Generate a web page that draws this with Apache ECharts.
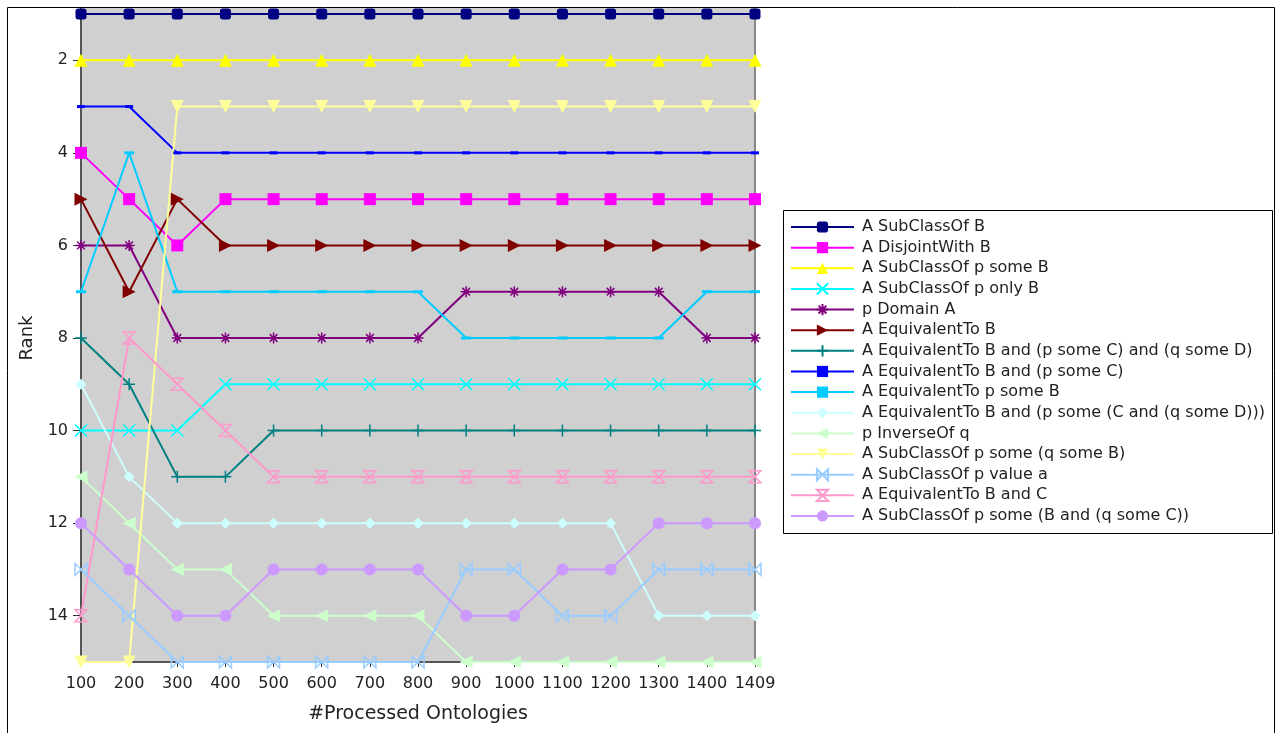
<!DOCTYPE html>
<html><head><meta charset="utf-8">
<script src="https://cdn.jsdelivr.net/npm/echarts@6/dist/echarts.min.js"></script>
<style>html,body{margin:0;padding:0;background:#fff}#c{width:1282px;height:733px}</style>
</head><body><div id="c"></div>
<script>
const categories = ['100','200','300','400','500','600','700','800','900','1000','1100','1200','1300','1400','1409'];
const yTicks = [2,4,6,8,10,12,14];
const names = [
 'A SubClassOf B','A DisjointWith B','A SubClassOf p some B','A SubClassOf p only B','p Domain A',
 'A EquivalentTo B','A EquivalentTo B and (p some C) and (q some D)','A EquivalentTo B and (p some C)',
 'A EquivalentTo p some B','A EquivalentTo B and (p some (C and (q some D)))','p InverseOf q',
 'A SubClassOf p some (q some B)','A SubClassOf p value a','A EquivalentTo B and C','A SubClassOf p some (B and (q some C))'
];
const subClassOfB      = [1,1,1,1,1,1,1,1,1,1,1,1,1,1,1];
const disjointWithB    = [4,5,6,5,5,5,5,5,5,5,5,5,5,5,5];
const someB            = [2,2,2,2,2,2,2,2,2,2,2,2,2,2,2];
const onlyB            = [10,10,10,9,9,9,9,9,9,9,9,9,9,9,9];
const domainA          = [6,6,8,8,8,8,8,8,7,7,7,7,7,8,8];
const equivB           = [5,7,5,6,6,6,6,6,6,6,6,6,6,6,6];
const equivBandCD      = [8,9,11,11,10,10,10,10,10,10,10,10,10,10,10];
const equivBandC_some  = [3,3,4,4,4,4,4,4,4,4,4,4,4,4,4];
const equivSomeB       = [7,4,7,7,7,7,7,7,8,8,8,8,8,7,7];
const equivNested      = [9,11,12,12,12,12,12,12,12,12,12,12,14,14,14];
const inverseOf        = [11,12,13,13,14,14,14,14,15,15,15,15,15,15,15];
const someQsomeB       = [15,15,3,3,3,3,3,3,3,3,3,3,3,3,3];
const valueA           = [13,14,15,15,15,15,15,15,13,13,14,14,13,13,13];
const equivBandC       = [14,8,9,10,11,11,11,11,11,11,11,11,11,11,11];
const someBandQ        = [12,13,14,14,13,13,13,13,14,14,13,13,12,12,12];

const dataList = [subClassOfB,disjointWithB,someB,onlyB,domainA,equivB,equivBandCD,equivBandC_some,equivSomeB,equivNested,inverseOf,someQsomeB,valueA,equivBandC,someBandQ];
const colors = ['#000080','#ff00ff','#ffff00','#00ffff','#800080','#800000','#008080','#0000ff','#00ccff','#ccffff','#ccffcc','#ffff99','#99ccff','#ff99cc','#cc99ff'];
const symbols = [
 {s:'roundRect', z:11, fill:true},
 {s:'rect', z:12, fill:true},
 {s:'triangle', z:13, fill:true},
 {s:'path://M0,0L10,10M10,0L0,10', z:12, fill:false},
 {s:'path://M5,0V10M0,5H10M1.5,1.5L8.5,8.5M8.5,1.5L1.5,8.5', z:11, fill:false},
 {s:'path://M0,0L10,5L0,10Z', z:13, fill:true},
 {s:'path://M5,0V10M0,5H10', z:12, fill:false},
 {s:'rect', z:[8,3], fill:true},
 {s:'rect', z:[10,3], fill:true},
 {s:'diamond', z:11, fill:true},
 {s:'path://M10,0L0,5L10,10Z', z:13, fill:true},
 {s:'path://M0,0H10L5,10Z', z:13, fill:true},
 {s:'path://M0,0L10,10V0L0,10Z', z:12, fill:false},
 {s:'path://M0,0H10L0,10H10Z', z:12, fill:false},
 {s:'circle', z:12, fill:true}
];

const series = names.map((n,i)=>({
  name:n, type:'line', data:dataList[i],
  symbol:symbols[i].s, symbolSize:symbols[i].z, showAllSymbol:true,
  lineStyle:{color:colors[i], width:2},
  itemStyle:{color: symbols[i].fill ? colors[i] : 'rgba(0,0,0,0)', borderColor:colors[i], borderWidth: symbols[i].fill?0:1.5},
  emphasis:{disabled:true}, animation:false, clip:false
}));

const chart = echarts.init(document.getElementById('c'), null, {renderer:'canvas'});
chart.setOption({
  animation:false,
  color:colors,
  textStyle:{fontFamily:'DejaVu Sans'},
  grid:{left:81, right:527, top:14, bottom:71, show:true, backgroundColor:'#d0d0d0', borderWidth:0},
  xAxis:{type:'category', data:categories, boundaryGap:false,
    name:'#Processed Ontologies', nameLocation:'middle', nameGap:43,
    nameTextStyle:{fontSize:19, color:'#222', fontFamily:'DejaVu Sans'},
    axisLine:{lineStyle:{color:'#555', width:2}},
    axisTick:{show:true, length:5, interval:0, lineStyle:{color:'#333'}},
    axisLabel:{fontSize:16, color:'#222', margin:14, interval:0, fontFamily:'DejaVu Sans'},
    splitLine:{show:false}},
  yAxis:{type:'value', inverse:true, min:1, max:15,
    name:'Rank', nameLocation:'middle', nameGap:44,
    nameTextStyle:{fontSize:18, color:'#222', fontFamily:'DejaVu Sans'},
    axisLine:{show:true, lineStyle:{color:'#555', width:2}},
    axisTick:{show:true, length:8, lineStyle:{color:'#333'}, customValues:yTicks},
    axisLabel:{fontSize:16, color:'#222', margin:13, fontFamily:'DejaVu Sans', customValues:yTicks},
    splitLine:{show:false}},
  legend:{orient:'vertical', left:790, top:219, padding:0, itemWidth:63, itemHeight:14, itemGap:4.64,
    selectedMode:false,
    textStyle:{fontSize:16, lineHeight:16, color:'#222', fontFamily:'DejaVu Sans', padding:[0,0,0,3]}, data:names},
  graphic:[
    {type:'rect', shape:{x:81,y:7,width:674,height:7}, style:{fill:'#d0d0d0'}, z:-1, silent:true},
    {type:'line', shape:{x1:81,y1:7,x2:81,y2:14}, style:{stroke:'#555', lineWidth:2}, z:0, silent:true},
    {type:'line', shape:{x1:755,y1:7,x2:755,y2:662}, style:{stroke:'#888', lineWidth:2}, z:0, silent:true},
    {type:'rect', shape:{x:7.5,y:7.5,width:1267,height:740}, style:{fill:'none', stroke:'#000', lineWidth:1}, z:100, silent:true},
    {type:'rect', shape:{x:783.5,y:210.5,width:489,height:323}, style:{fill:'none', stroke:'#000', lineWidth:1}, z:100, silent:true}
  ],
  series:series
});
</script></body></html>
